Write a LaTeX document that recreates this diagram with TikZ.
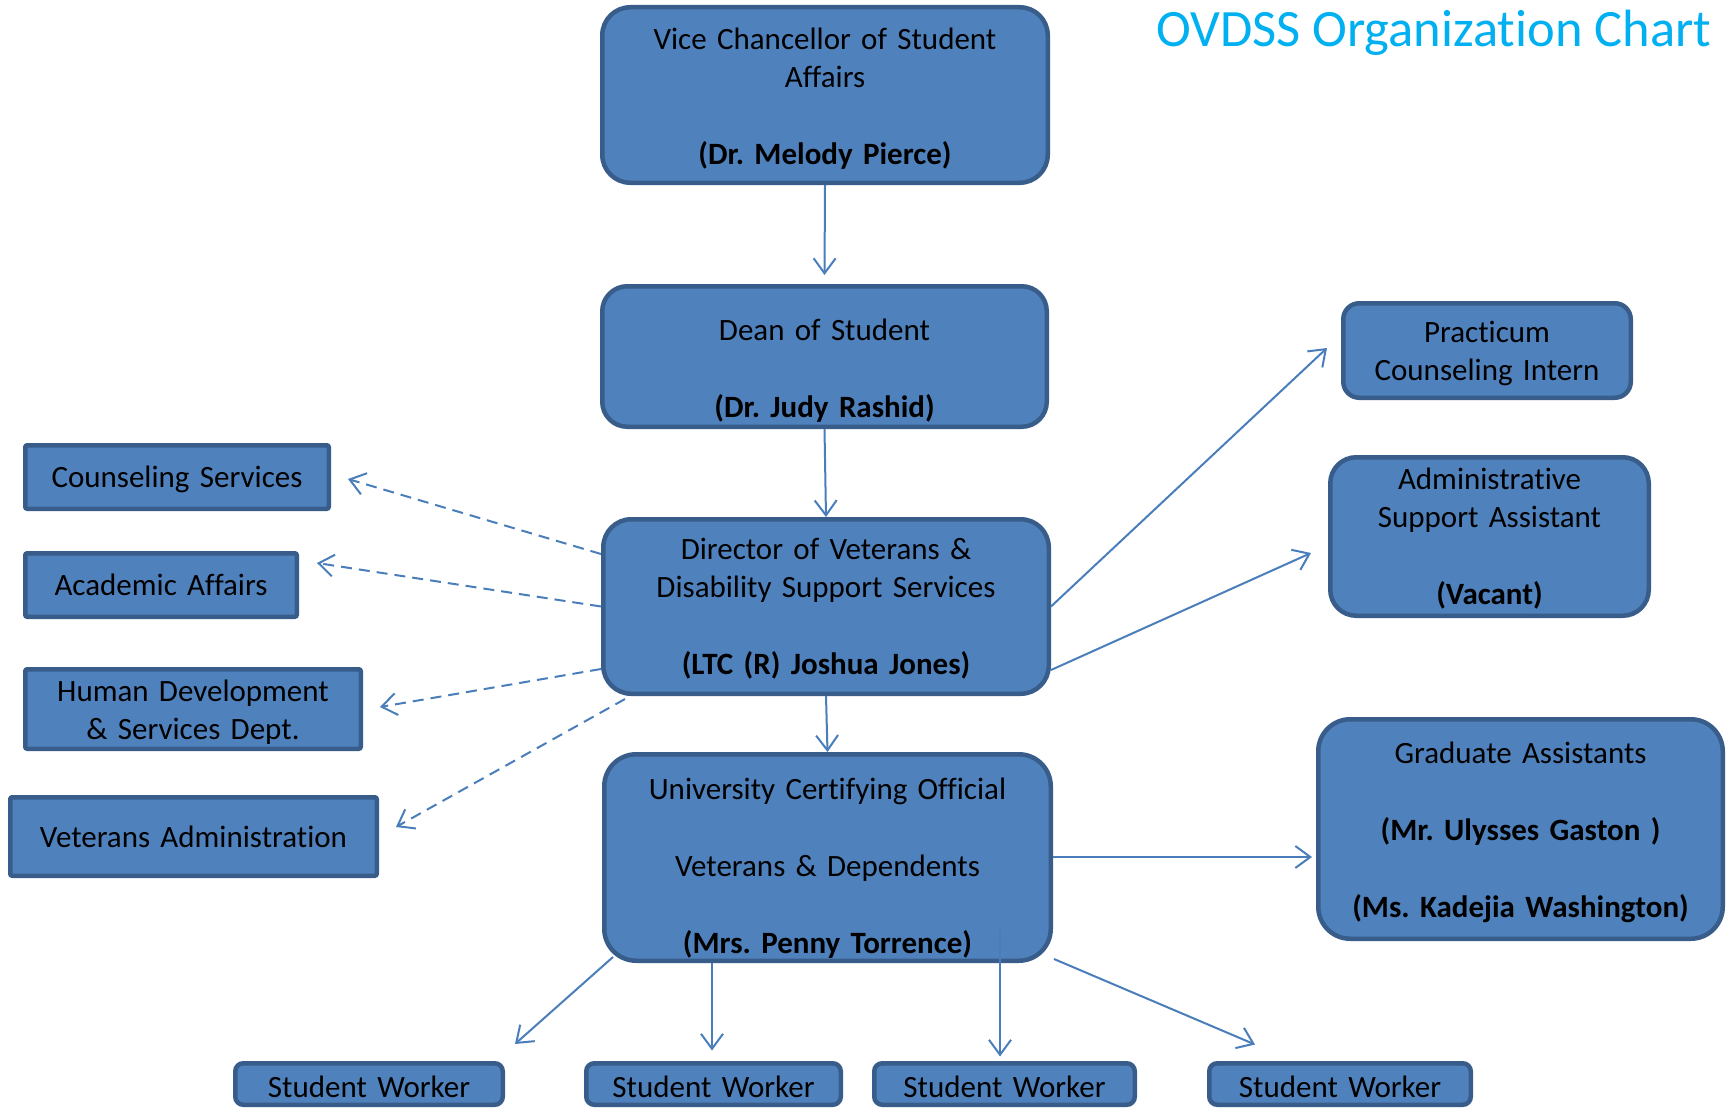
\documentclass[tikz,border=0pt]{standalone}
\usepackage{fontspec}
\setmainfont{Carlito}[Ligatures=NoCommon]
\usetikzlibrary{arrows.meta,calc}
\definecolor{boxfill}{RGB}{79,129,189}
\definecolor{boxline}{RGB}{56,93,138}
\definecolor{conn}{RGB}{74,126,187}
\definecolor{titleblue}{RGB}{0,176,240}
\newcommand\boxfont{\fontsize{31pt}{38.5pt}\selectfont}
\frenchspacing
\begin{document}
\begin{tikzpicture}[x=1pt,y=-1pt,
  orgbox/.style={draw=boxline, fill=boxfill, line width=4.5pt, rounded corners=28pt, inner sep=0pt},
  midbox/.style={orgbox, rounded corners=16pt},
  sqbox/.style={orgbox, rounded corners=2pt},
  swbox/.style={orgbox, rounded corners=8pt},
  txt/.style={font=\boxfont, text=black, align=center, text width=440pt, anchor=base, inner sep=0pt},
  arr/.style={draw=conn, line width=2pt, -{Straight Barb[length=15pt,width=22pt]}},
  darr/.style={arr, dash pattern=on 11pt off 7pt}
]
\path[fill=white, use as bounding box] (0,0) rectangle (1734,1108);

% title
\node[anchor=base west, inner sep=0pt, text=titleblue, font=\fontsize{52.5pt}{60pt}\selectfont] (title) at (1156,47) {OVDSS Organization Chart};

% main column
\node[orgbox, minimum width=445.5pt, minimum height=175.5pt] (vc) at (825,95) {};
\node[txt] (vct) at (825,49) {Vice Chancellor of Student\\Affairs\\[38.5pt]\textbf{(Dr. Melody Pierce)}};

\node[orgbox, rounded corners=25pt, minimum width=444.5pt, minimum height=140.5pt] (dean) at (824.5,356.5) {};
\node[txt] (deant) at (824.5,340) {Dean of Student\\[38.5pt]\textbf{(Dr. Judy Rashid)}};

\node[orgbox, minimum width=445.5pt, minimum height=174.5pt] (dir) at (826,606.5) {};
\node[txt] (dirt) at (826,559) {Director of Veterans \&\\Disability Support Services\\[38.5pt]\textbf{(LTC (R) Joshua Jones)}};

\node[orgbox, rounded corners=32pt, minimum width=446.5pt, minimum height=206.5pt] (uco) at (827.5,857.5) {};
\node[txt] (ucot) at (827.5,799) {University Certifying Official\\[38.5pt]Veterans \& Dependents\\[38.5pt]\textbf{(Mrs. Penny Torrence)}};

% right column
\node[midbox, minimum width=287.5pt, minimum height=94.5pt] (prac) at (1487,350.5) {};
\node[txt] (pract) at (1487,342) {Practicum\\Counseling Intern};

\node[orgbox, rounded corners=26pt, minimum width=318.5pt, minimum height=158.5pt] (admin) at (1489.5,536.5) {};
\node[txt] (admint) at (1489.5,489) {Administrative\\Support Assistant\\[38.5pt]\textbf{(Vacant)}};

\node[orgbox, rounded corners=32pt, minimum width=404.5pt, minimum height=219.5pt] (grad) at (1520.5,829) {};
\node[txt] (gradt) at (1520.5,763) {Graduate Assistants\\[38.5pt]\textbf{(Mr. Ulysses Gaston )}\\[38.5pt]\textbf{(Ms. Kadejia Washington)}};

% left column
\node[sqbox, minimum width=303.5pt, minimum height=63.5pt] (cs) at (177,477) {};
\node[txt] (cst) at (177,487) {Counseling Services};
\node[sqbox, minimum width=271.5pt, minimum height=63.5pt] (aa) at (161,585) {};
\node[txt] (aat) at (161,595) {Academic Affairs};
\node[sqbox, minimum width=335.5pt, minimum height=79.5pt] (hd) at (193,709) {};
\node[txt] (hdt) at (193,701) {Human Development\\\& Services Dept.};
\node[sqbox, minimum width=366.5pt, minimum height=78.5pt] (va) at (193.5,836.5) {};
\node[txt] (vat) at (193.5,847) {Veterans Administration};

% student workers
\node[swbox, minimum width=267.5pt, minimum height=41.5pt] (sw1) at (369,1084) {};
\node[txt] (sw1t) at (369,1097) {Student Worker};
\node[swbox, minimum width=254.5pt, minimum height=41.5pt] (sw2) at (713.5,1084) {};
\node[txt] (sw2t) at (713.5,1097) {Student Worker};
\node[swbox, minimum width=260.5pt, minimum height=41.5pt] (sw3) at (1004.5,1084) {};
\node[txt] (sw3t) at (1004.5,1097) {Student Worker};
\node[swbox, minimum width=261.5pt, minimum height=41.5pt] (sw4) at (1340,1084) {};
\node[txt] (sw4t) at (1340,1097) {Student Worker};

% connectors
\draw[arr] (vc.south) -- ($(dean.north)+(0,-9)$);
\draw[arr] (dean.south) -- (dir.north);
\draw[arr] (dir.south) -- (uco.north);
\draw[arr] (dir.east) -- ($(prac.west)+(-14,-2.5)$);
\draw[arr] ($(dir.east)+(0,63.5)$) -- ($(admin.west)+(-17,16.5)$);
\draw[darr] ($(dir.west)+(0,-52.5)$) -- ($(cs.east)+(17,2)$);
\draw[darr] (dir.west) -- ($(aa.east)+(18,-22)$);
\draw[darr] ($(dir.west)+(0,62.5)$) -- ($(hd.east)+(17,-2)$);
\draw[darr] ($(dir.south west)+(24,3)$) -- ($(va.east)+(17,-9.5)$);
\draw[arr] ($(uco.east)+(0,-0.5)$) -- ($(grad.west)+(-4,28)$);
\draw[arr] ($(uco.south west)+(11,-6)$) -- ($(sw1.north)+(146,-17)$);
\draw[arr] ($(uco.south)+(-115.5,0)$) -- ($(sw2.north)+(-1.5,-10.5)$);
\draw[arr] ($(uco.south)+(172.5,-33)$) -- ($(sw3.north)+(-4.5,-4.5)$);
\draw[arr] ($(uco.south east)+(1,-4)$) -- ($(sw4.north)+(-85,-16.5)$);
\end{tikzpicture}
\end{document}
